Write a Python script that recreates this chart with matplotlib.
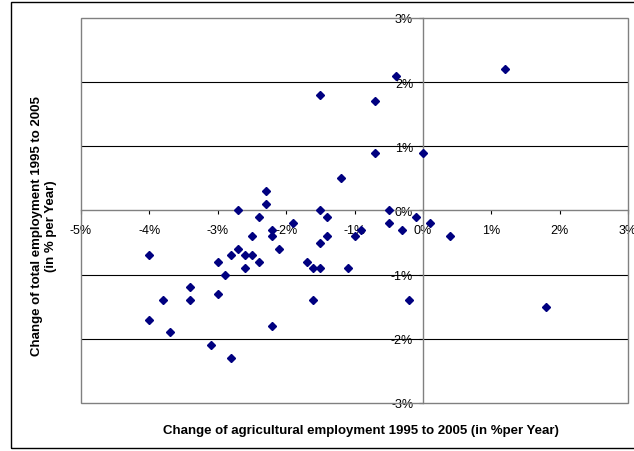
import matplotlib
matplotlib.use('Agg')
import matplotlib.pyplot as plt
from matplotlib.patches import Rectangle
from matplotlib.ticker import FuncFormatter, MultipleLocator

plt.rcParams['font.family'] = ['Liberation Sans', 'DejaVu Sans']

# change of agricultural employment (% per year)
agri_change = [-1.5, -1.2, -2.3, -2.3, -0.4, 1.2, -0.7, -0.7, 0.0, -2.7,
               -2.4, -1.9, -2.2, -2.2, -2.5, -2.1, -2.7, -2.8, -2.6, -2.5,
               -3.0, -2.4, -2.6, -4.0, -2.9, -3.4, -3.8, -3.4, -3.0, -4.0,
               -3.7, -3.1, -2.8, -2.2, -1.5, -1.4, -1.4, -1.5, -1.7, -1.6,
               -1.5, -1.6, -1.1, -1.0, -0.9, -0.5, -0.5, -0.3, -0.1, 0.1,
               0.4, -0.2, 1.8]
# change of total employment (% per year)
total_change = [1.8, 0.5, 0.3, 0.1, 2.1, 2.2, 1.7, 0.9, 0.9, 0.0,
                -0.1, -0.2, -0.3, -0.4, -0.4, -0.6, -0.6, -0.7, -0.7, -0.7,
                -0.8, -0.8, -0.9, -0.7, -1.0, -1.2, -1.4, -1.4, -1.3, -1.7,
                -1.9, -2.1, -2.3, -1.8, 0.0, -0.1, -0.4, -0.5, -0.8, -0.9,
                -0.9, -1.4, -0.9, -0.4, -0.3, 0.0, -0.2, -0.3, -0.1, -0.2,
                -0.4, -1.4, -1.5]

W, H = 634, 452
fig = plt.figure(figsize=(W / 100, H / 100), dpi=100)
ax = fig.add_axes([81 / W, 1 - 404 / H, 547 / W, 385 / H])

ax.set_xlim(-5, 3)
ax.set_ylim(-3, 3)

# horizontal gridlines
for yv in [-2, -1, 1, 2]:
    ax.axhline(yv, color='black', lw=0.8, zorder=1)

ax.plot(agri_change, total_change, linestyle='none', marker='D',
        ms=3.8, color='#000080', zorder=3)

# axes crossing at zero
for side in ['top', 'right']:
    ax.spines[side].set_visible(False)
ax.spines['left'].set_position(('data', 0))
ax.spines['bottom'].set_position(('data', 0))
for side in ['left', 'bottom']:
    ax.spines[side].set_color('#808080')
    ax.spines[side].set_linewidth(1.0)
    ax.spines[side].set_zorder(2)

# plot area border
ax.add_patch(Rectangle((0, 0), 1, 1, transform=ax.transAxes, fill=False,
                       edgecolor='#808080', lw=1.0, clip_on=False, zorder=2))

pct = FuncFormatter(lambda v, p: '{:.0f}%'.format(v))
ax.xaxis.set_major_locator(MultipleLocator(1))
ax.yaxis.set_major_locator(MultipleLocator(1))
ax.xaxis.set_major_formatter(pct)
ax.yaxis.set_major_formatter(pct)
ax.tick_params(axis='both', direction='out', length=3, width=0.8,
               color='black', labelsize=9)
ax.tick_params(axis='x', pad=7)
ax.tick_params(axis='y', pad=4)

fig.text(44 / W, 1 - 226 / H,
         'Change of total employment 1995 to 2005\n(in % per Year)',
         rotation=90, ha='center', va='center', fontsize=9.5,
         fontweight='bold', linespacing=1.15)
fig.text(361 / W, 1 - 431 / H,
         'Change of agricultural employment 1995 to 2005 (in %per Year)',
         ha='center', va='center', fontsize=9.5, fontweight='bold')

# outer chart frame
fig.add_artist(Rectangle((11 / W, 1 - 449 / H), 1.0, 446 / H,
                         transform=fig.transFigure, fill=False,
                         edgecolor='black', lw=1.0))

fig.savefig('out.png', dpi=100)
